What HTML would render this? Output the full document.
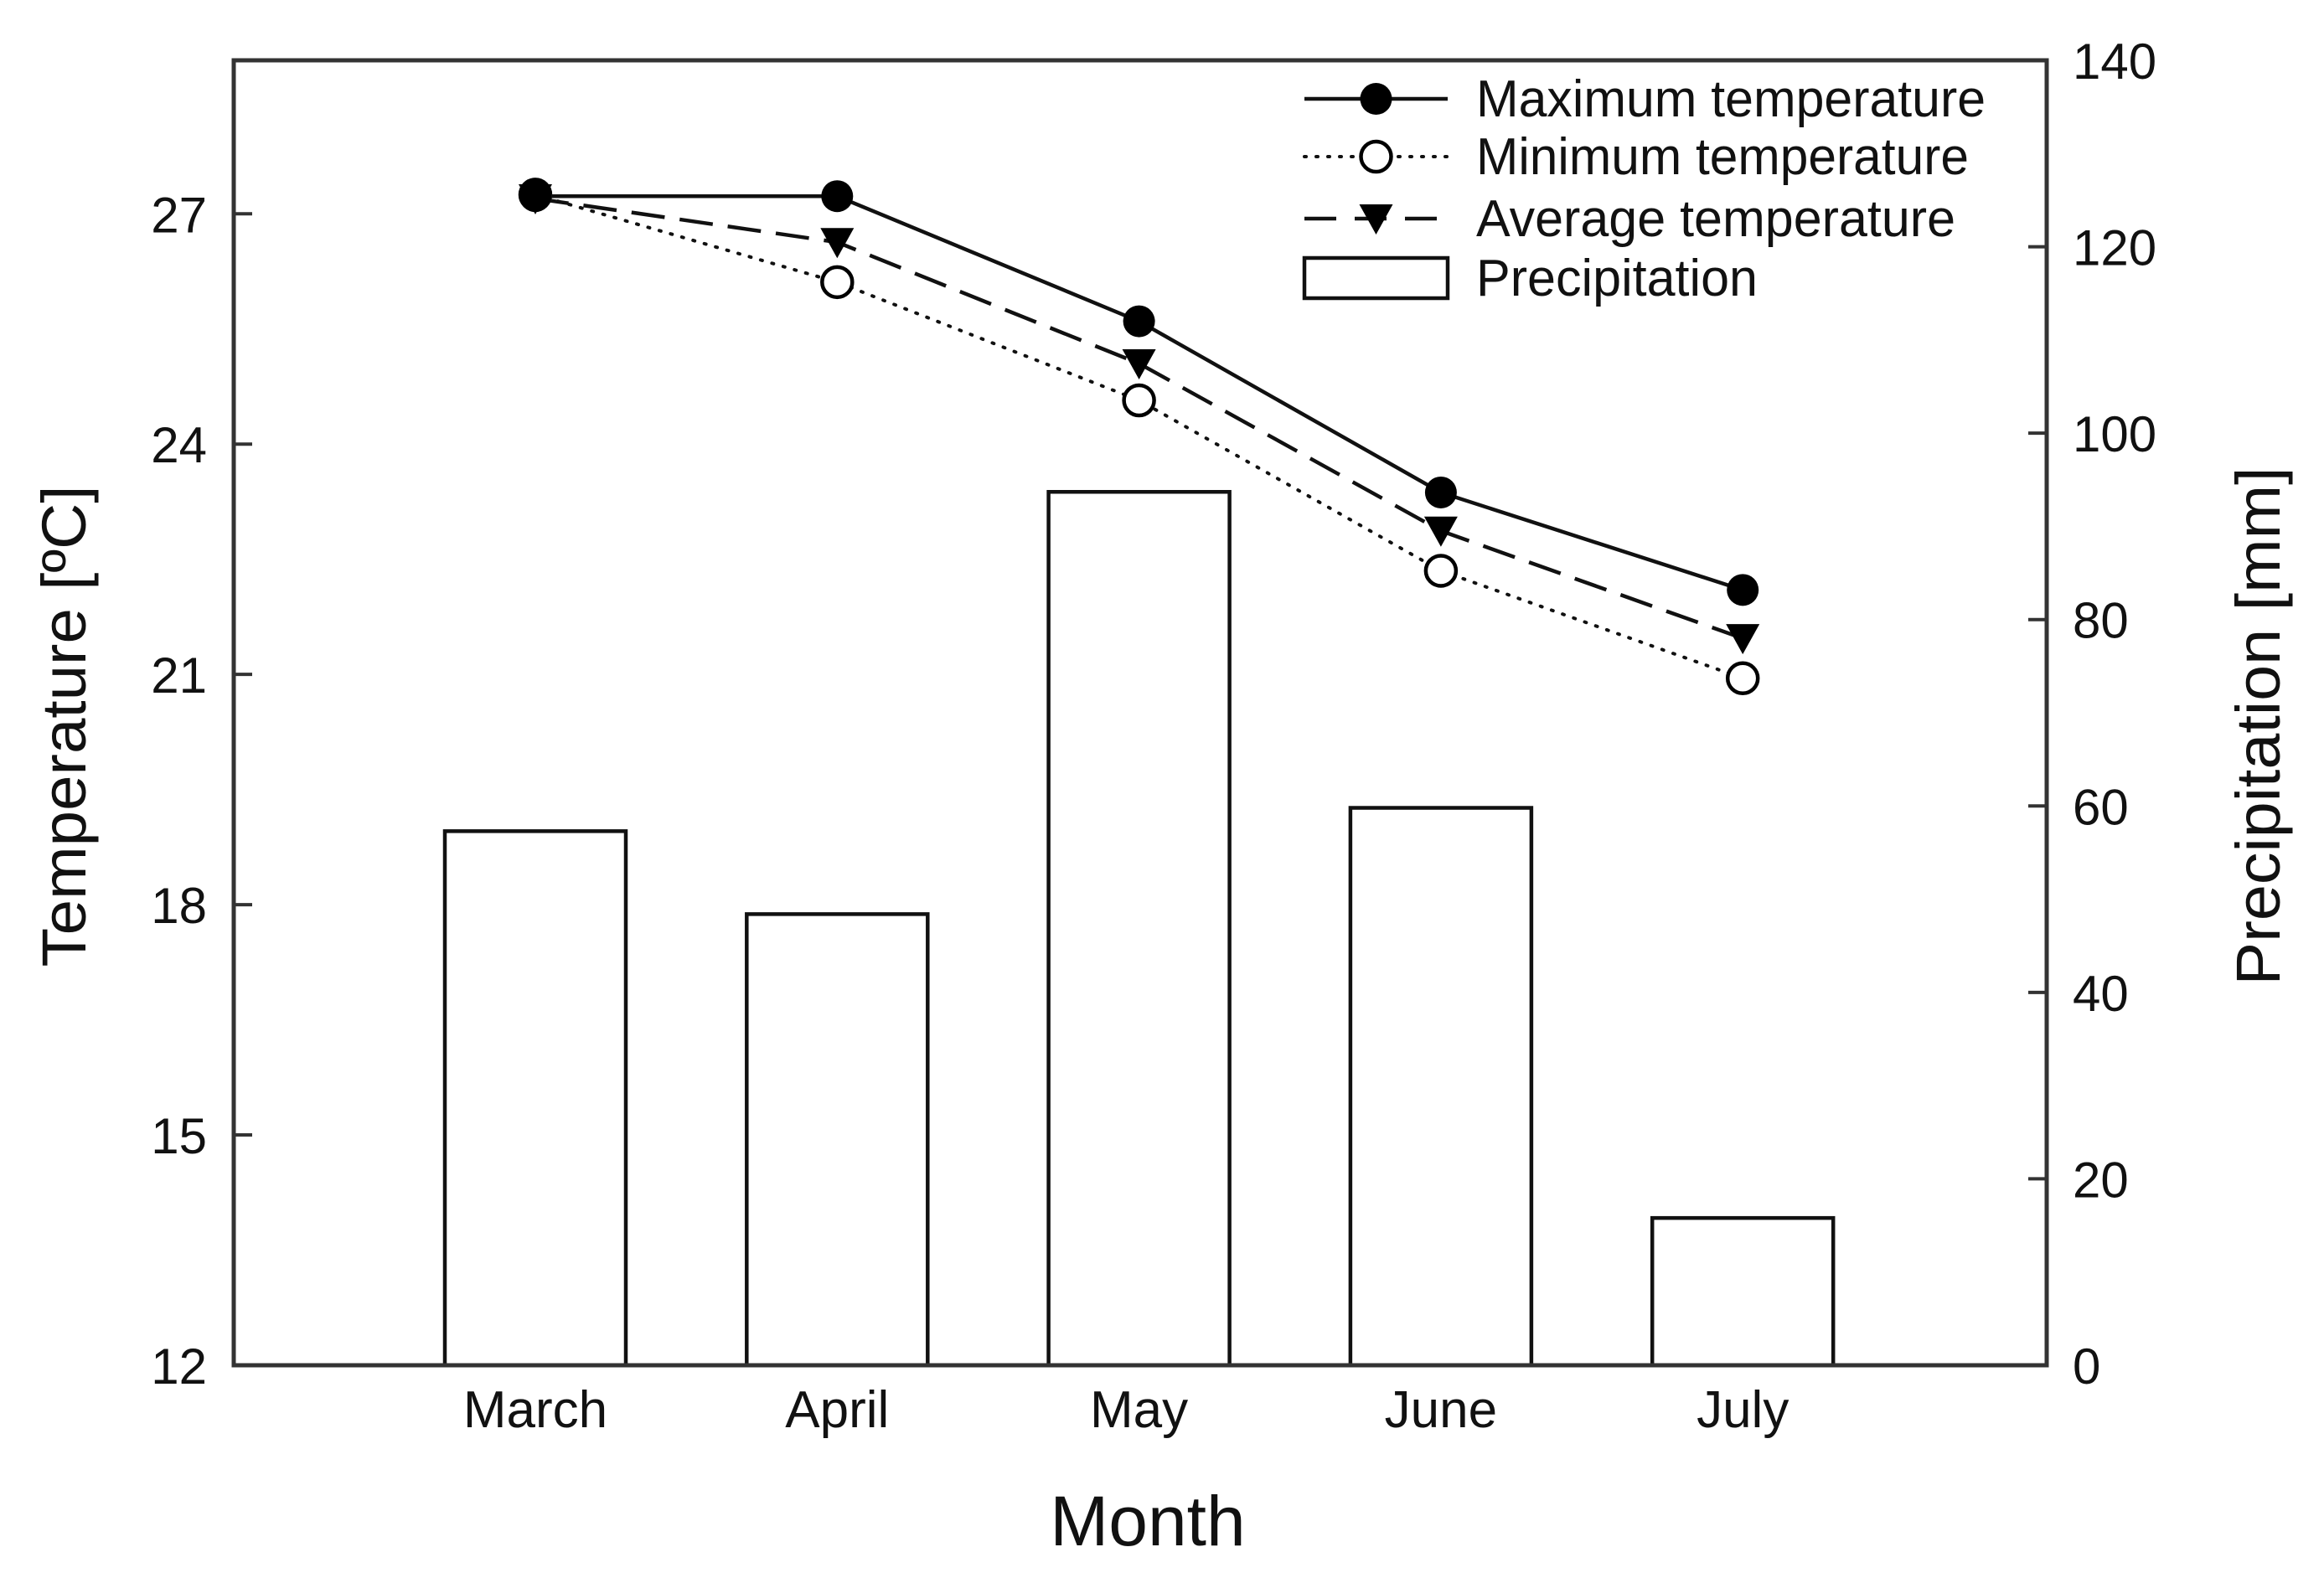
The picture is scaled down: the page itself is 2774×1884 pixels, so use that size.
<!DOCTYPE html>
<html><head><meta charset="utf-8"><style>
html,body{margin:0;padding:0;background:#fff;}
svg{display:block;font-family:"Liberation Sans",Arial,sans-serif;}
</style></head><body>
<svg id="chart" width="2774" height="1884" viewBox="0 0 2774 1884" xmlns="http://www.w3.org/2000/svg">
<g id="bars"></g><g id="lines"></g><g id="axes"></g><g id="legend"></g>
</svg>
<script>
const months = ["March","April","May","June","July"];
const precip = [57.3, 48.4, 93.7, 59.8, 15.8];
const tMax = [27.23, 27.23, 25.6, 23.37, 22.1];
const tMin = [27.25, 26.11, 24.57, 22.35, 20.95];
const tAvg = [27.2, 26.63, 25.05, 22.87, 21.47];
const leftTicks = [12,15,18,21,24,27];
const rightTicks = [0,20,40,60,80,100,120,140];

const NS="http://www.w3.org/2000/svg";
const L=279,R=2443,T=72,B=1630;
const xc=i=>639+i*360.3;
const yT=v=>B-(v-12)/(29-12)*(B-T);
const yP=v=>B-v/140*(B-T);
function mk(tag,attrs,parent,text){const e=document.createElementNS(NS,tag);for(const k in attrs)e.setAttribute(k,attrs[k]);if(text!==undefined)e.textContent=text;parent.appendChild(e);return e;}
const gB=document.getElementById('bars'),gL=document.getElementById('lines'),gA=document.getElementById('axes'),gG=document.getElementById('legend');

precip.forEach((v,i)=>{
  const r=mk('rect',{x:xc(i)-108,y:yP(v),width:216,height:B-yP(v),fill:'#fff',stroke:'#111','stroke-width':4.5},gB);
  
  
});

function series(vals,name,dash,marker){
  const pts=vals.map((v,i)=>xc(i)+','+yT(v)).join(' ');
  const pl=mk('polyline',{points:pts,fill:'none',stroke:'#111','stroke-width':dash==='2 12'?4:4.5,'stroke-dasharray':dash,'stroke-linecap':dash==='2 12'?'round':'butt'},gL);
  
  
  vals.forEach((v,i)=>{
    const x=xc(i),y=yT(v);let m;
    if(marker==='filled') m=mk('circle',{cx:x,cy:y,r:19,fill:'#000'},gL);
    else if(marker==='open') m=mk('circle',{cx:x,cy:y,r:18,fill:'#fff',stroke:'#000','stroke-width':4.5},gL);
    else m=mk('polygon',{points:`${x-20},${y-17} ${x+20},${y-17} ${x},${y+19}`,fill:'#000'},gL);
    
    
  });
}
series(tMin,'min-temp','2 12','open');
series(tAvg,'avg-temp','40 18','tri');
series(tMax,'max-temp','','filled');

const frame=mk('rect',{x:L,y:T,width:R-L,height:B-T,fill:'none',stroke:'#333','stroke-width':5},gA);


leftTicks.forEach(v=>{
  const y=yT(v);
  const t=mk('line',{x1:L,x2:L+22,y1:y,y2:y,stroke:'#333','stroke-width':4},gA);
  
  
  const tx=mk('text',{x:247,y:y+22,'font-size':60,'text-anchor':'end',fill:'#111'},gA,String(v));
  
  
});
rightTicks.forEach(v=>{
  const y=yP(v);
  const t=mk('line',{x1:R-22,x2:R,y1:y,y2:y,stroke:'#333','stroke-width':4},gA);
  
  
  const tx=mk('text',{x:2474,y:y+22,'font-size':60,'text-anchor':'start',fill:'#111'},gA,String(v));
  
  
});
months.forEach((m,i)=>{
  const tx=mk('text',{x:xc(i),y:1704,'font-size':62,'text-anchor':'middle',fill:'#111'},gA,m);
  
  
});
const xt=mk('text',{x:1370,y:1845,'font-size':84,'text-anchor':'middle',fill:'#111'},gA,'Month');


const yl=mk('text',{x:0,y:0,'font-size':74,'text-anchor':'middle',fill:'#111',transform:'translate(102,867) rotate(-90)',textLength:575,lengthAdjust:'spacingAndGlyphs'},gA,'Temperature [ºC]');


const yr=mk('text',{x:0,y:0,'font-size':74,'text-anchor':'middle',fill:'#111',transform:'translate(2721,867) rotate(-90)',textLength:619,lengthAdjust:'spacingAndGlyphs'},gA,'Precipitation [mm]');



const lx1=1557,lx2=1728,tx0=1762,lm=(lx1+lx2)/2;
const rows=[118,187,261,332];
const labels=['Maximum temperature','Minimum temperature','Average temperature','Precipitation'];
const widths=[608,588,572,336];
let e;
e=mk('line',{x1:lx1,x2:lx2,y1:rows[0],y2:rows[0],stroke:'#111','stroke-width':4.5},gG);

e=mk('circle',{cx:lm,cy:rows[0],r:19,fill:'#000'},gG);

e=mk('line',{x1:lx1,x2:lx2,y1:rows[1],y2:rows[1],stroke:'#111','stroke-width':4,'stroke-dasharray':'2 12','stroke-linecap':'round'},gG);

e=mk('circle',{cx:lm,cy:rows[1],r:18,fill:'#fff',stroke:'#000','stroke-width':4.5},gG);

e=mk('line',{x1:lx1,x2:lx2,y1:rows[2],y2:rows[2],stroke:'#111','stroke-width':4.5,'stroke-dasharray':'38 22'},gG);

e=mk('polygon',{points:`${lm-20},${rows[2]-17} ${lm+20},${rows[2]-17} ${lm},${rows[2]+19}`,fill:'#000'},gG);

e=mk('rect',{x:lx1,y:rows[3]-24,width:lx2-lx1,height:48,fill:'#fff',stroke:'#111','stroke-width':4.5},gG);

labels.forEach((s,i)=>{
  const t=mk('text',{x:tx0,y:rows[i]+21,'font-size':62,fill:'#111',textLength:widths[i],lengthAdjust:'spacingAndGlyphs'},gG,s);
  
  
});
</script>
</body></html>
